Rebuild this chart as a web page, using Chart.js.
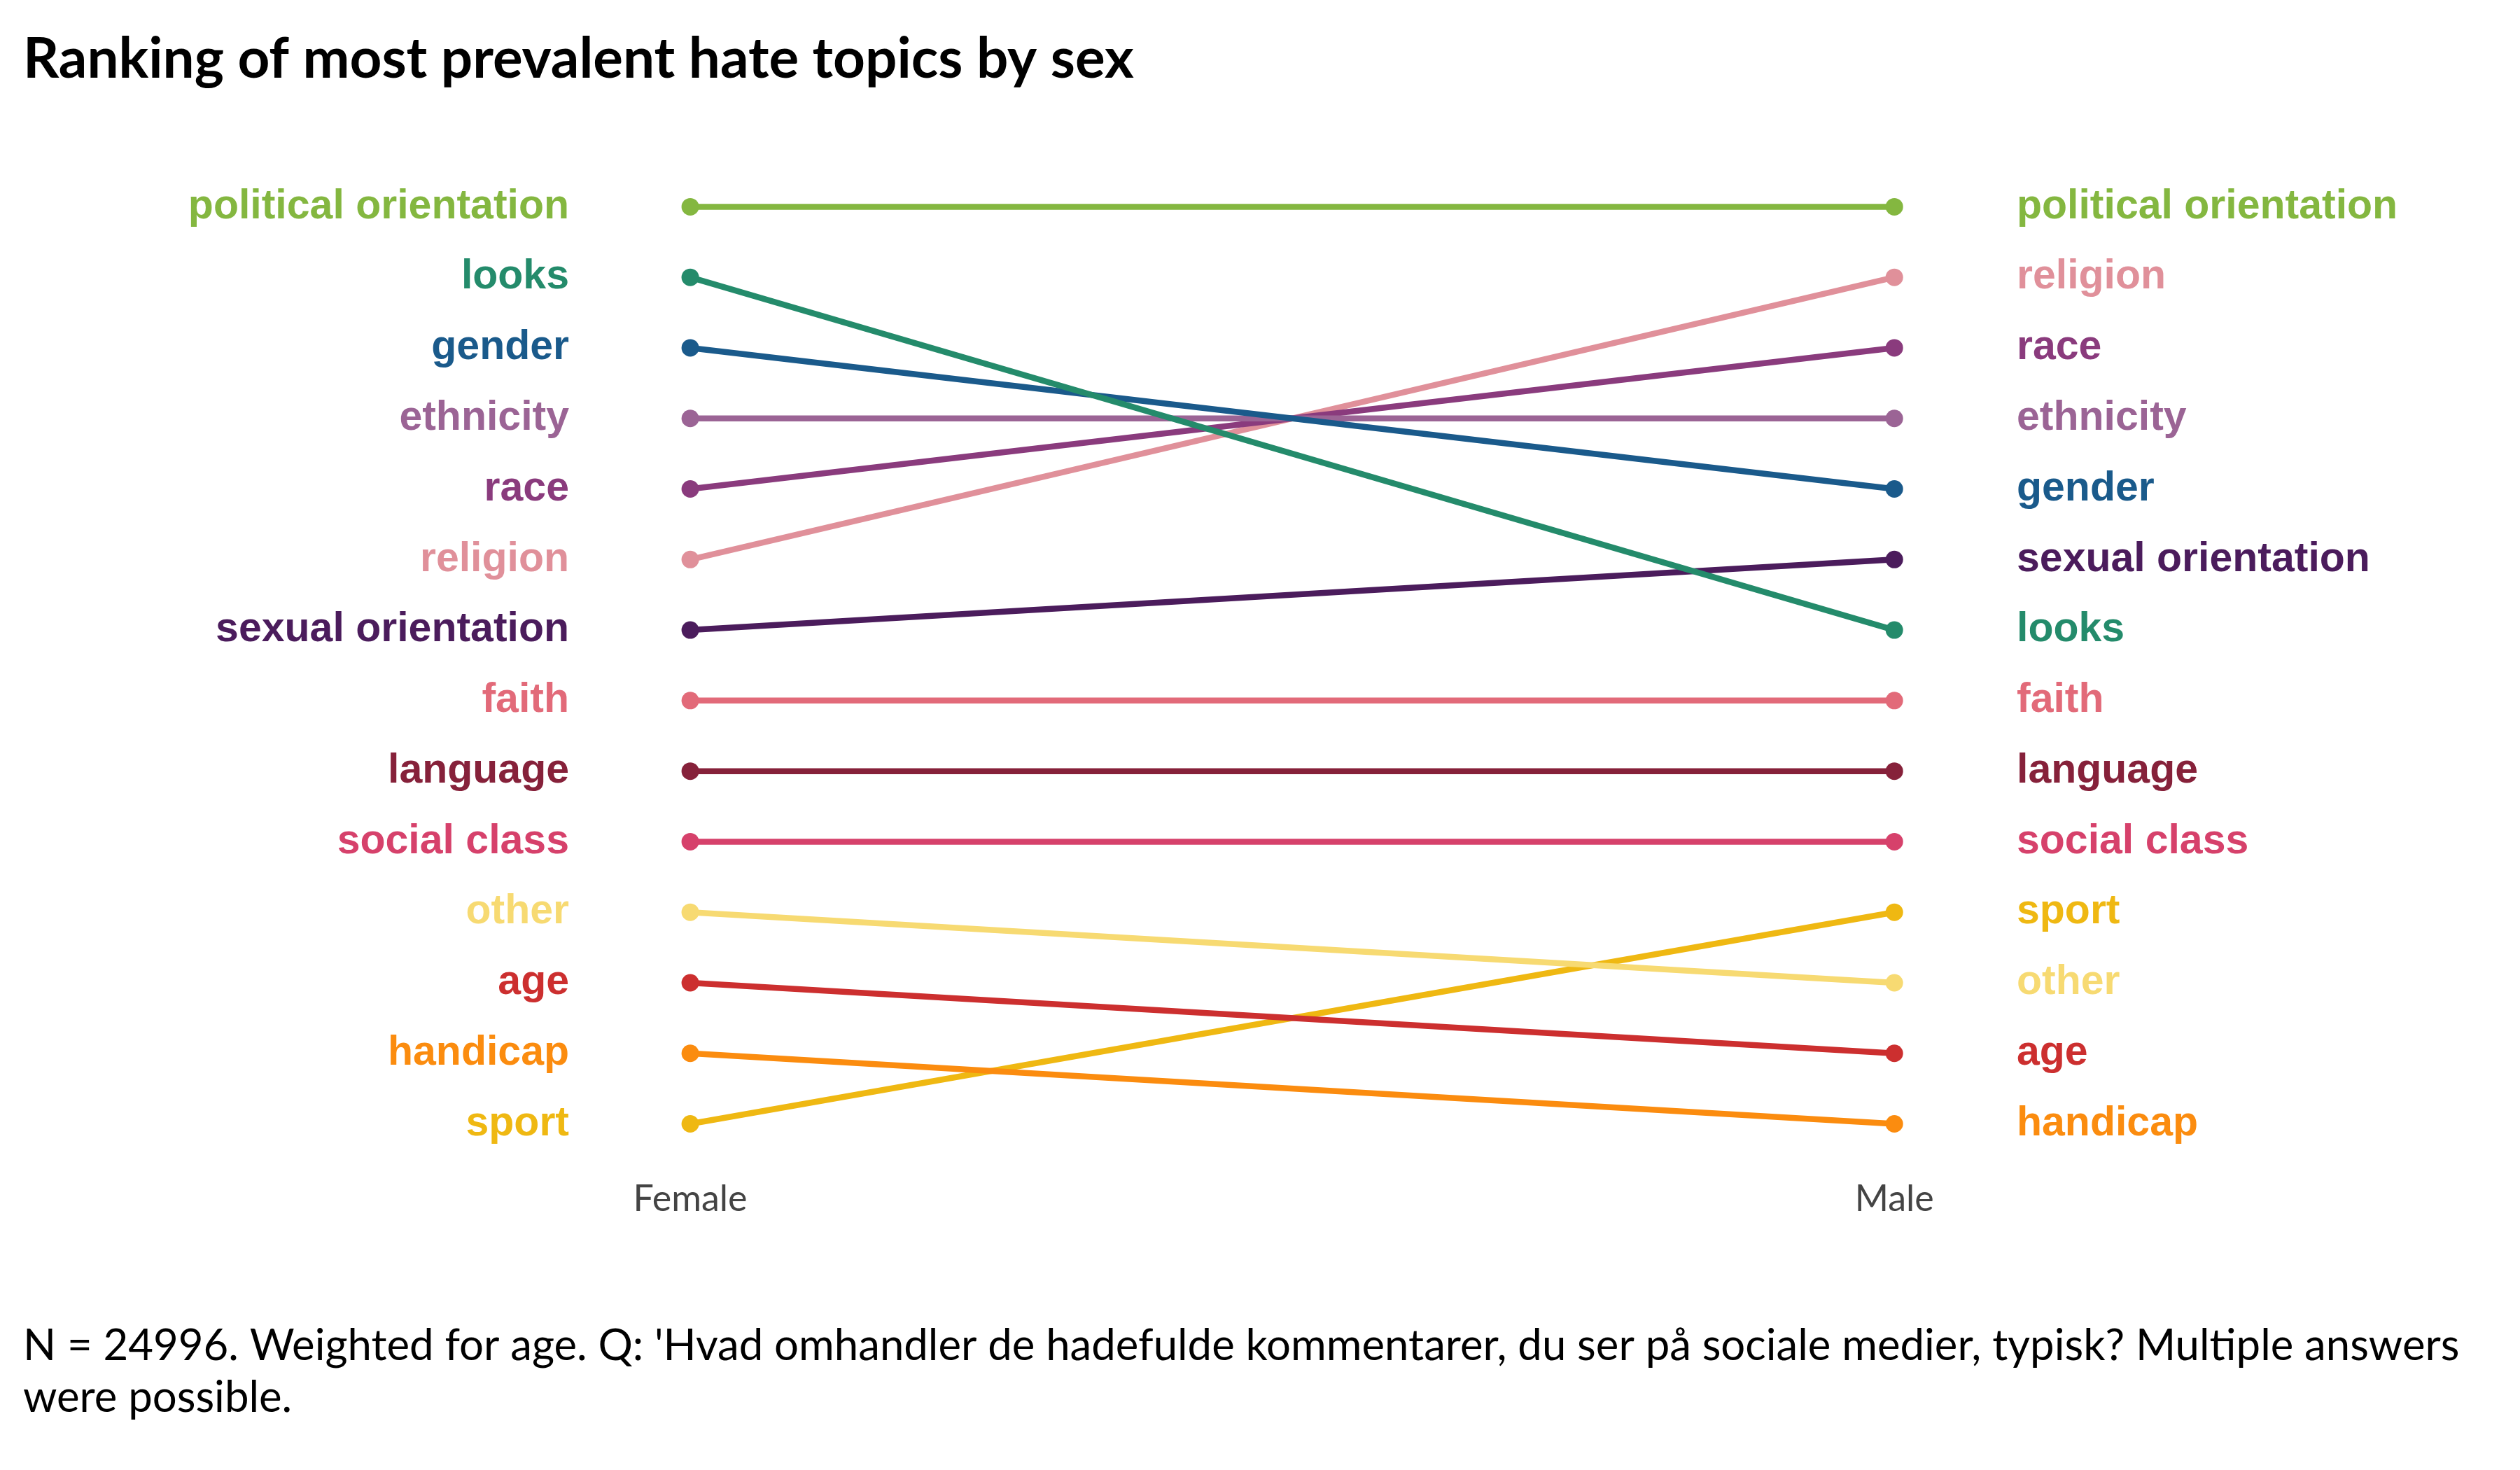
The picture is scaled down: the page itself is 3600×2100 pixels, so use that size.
<!DOCTYPE html>
<html>
<head>
<meta charset="utf-8">
<script src="https://cdn.jsdelivr.net/npm/chart.js@4.4.1/dist/chart.umd.min.js"></script>
<style>
  html, body { margin: 0; padding: 0; background: #ffffff; }
  #wrap { width: 3600px; height: 2100px; position: relative; }
</style>
</head>
<body>
<div id="wrap"><canvas id="slopeChart"></canvas></div>
<script>
// topics in the female ranking order
var topics = ['political orientation', 'looks', 'gender', 'ethnicity', 'race', 'religion',
    'sexual orientation', 'faith', 'language', 'social class', 'other', 'age', 'handicap', 'sport'];
var femaleRank = [1, 2, 3, 4, 5, 6, 7, 8, 9, 10, 11, 12, 13, 14];
var maleRank = [1, 7, 5, 4, 3, 2, 6, 8, 9, 10, 12, 13, 14, 11];
var sexLabels = ['Female', 'Male'];
var colors = ['#84b740', '#248b6b', '#1a5a8b', '#9b6495', '#8a3b7d', '#e0909a',
    '#4b1c5c', '#e26a79', '#86213a', '#d6416b', '#f7da72', '#cc2f2f', '#fb8c0f', '#efb812'];

var titleText = 'Ranking of most prevalent hate topics by sex';
var captionLines = ["N = 24996. Weighted for age. Q: 'Hvad omhandler de hadefulde kommentarer, du ser på sociale medier, typisk? Multiple answers",
    'were possible.'];

function topicAt(ranks, value) {
    return ranks.indexOf(value);
}

// every axis needs its own tick objects, chart.js writes labels into them
function rankTicks() {
    return femaleRank.map(function(v) { return {value: v}; });
}

var datasets = [];
for (var i = 0; i < topics.length; i++) {
    datasets.push({
        label: topics[i],
        data: [{x: 0, y: femaleRank[i]}, {x: 1, y: maleRank[i]}],
        borderColor: colors[i],
        backgroundColor: colors[i],
        pointBackgroundColor: colors[i],
        borderWidth: 8.5,
        pointRadius: 12.5,
        pointBorderWidth: 0,
        yAxisID: 'y'
    });
}

var labelFont = {family: '"Liberation Sans", Arial, sans-serif', size: 59, weight: 'bold'};

var ctx = document.getElementById('slopeChart').getContext('2d');
var myChart = new Chart(ctx, {
    type: 'line',
    data: { datasets: datasets },
    options: {
        responsive: true,
        maintainAspectRatio: false,
        animation: false,
        events: [],
        layout: { padding: { left: 33, right: 0, top: 0, bottom: 0 } },
        scales: {
            x: {
                type: 'linear',
                min: -0.089,
                max: 1.09,
                afterBuildTicks: function(scale) {
                    scale.ticks = [{value: 0}, {value: 1}];
                },
                afterFit: function(scale) { scale.height = 212; },
                grid: { display: false, drawTicks: false },
                border: { display: false },
                ticks: {
                    padding: 26,
                    color: '#444444',
                    font: {family: 'Lato', size: 52},
                    callback: function(value) { return sexLabels[value]; }
                }
            },
            y: {
                type: 'linear',
                position: 'left',
                reverse: true,
                min: 0.5,
                max: 14.5,
                afterBuildTicks: function(scale) { scale.ticks = rankTicks(); },
                afterFit: function(scale) { scale.width = 800; },
                grid: { display: false, drawTicks: false },
                border: { display: false },
                ticks: {
                    padding: 20,
                    font: labelFont,
                    color: function(c) { return colors[topicAt(femaleRank, c.tick.value)]; },
                    callback: function(value) { return topics[topicAt(femaleRank, value)]; }
                }
            },
            y2: {
                type: 'linear',
                position: 'right',
                reverse: true,
                min: 0.5,
                max: 14.5,
                afterBuildTicks: function(scale) { scale.ticks = rankTicks(); },
                afterFit: function(scale) { scale.width = 739; },
                grid: { display: false, drawTicks: false },
                border: { display: false },
                ticks: {
                    padding: 20,
                    font: labelFont,
                    color: function(c) { return colors[topicAt(maleRank, c.tick.value)]; },
                    callback: function(value) { return topics[topicAt(maleRank, value)]; }
                }
            }
        },
        plugins: {
            legend: { display: false },
            tooltip: { enabled: false },
            title: {
                display: true,
                text: titleText,
                align: 'start',
                color: '#000000',
                font: {family: 'Lato', size: 80, weight: 'bold'},
                padding: { top: 37, bottom: 112 }
            },
            subtitle: {
                display: true,
                position: 'bottom',
                text: captionLines,
                align: 'start',
                color: '#000000',
                font: {family: 'Lato', size: 61.7, lineHeight: 1.2},
                padding: { top: 18, bottom: 66 }
            }
        }
    }
});
</script>
</body>
</html>
